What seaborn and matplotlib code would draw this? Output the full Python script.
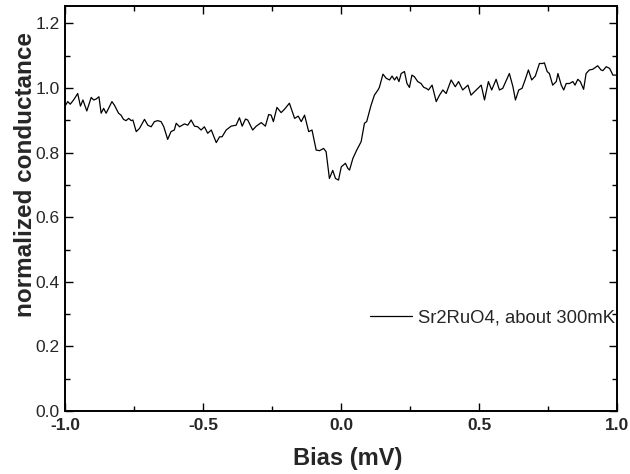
import matplotlib
matplotlib.use("Agg")
import matplotlib.pyplot as plt
from matplotlib.ticker import MultipleLocator
import seaborn as sns
import pandas as pd

# Tunneling conductance of Sr2RuO4 near 300 mK
bias = [
    -1.000, -0.990, -0.981, -0.969, -0.954, -0.944, -0.935, -0.921, -0.905, -0.896,
    -0.887, -0.877, -0.869, -0.860, -0.851, -0.845, -0.830, -0.821, -0.806, -0.797,
    -0.788, -0.779, -0.769, -0.760, -0.754, -0.742, -0.730, -0.712, -0.700, -0.688,
    -0.676, -0.664, -0.652, -0.642, -0.628, -0.616, -0.604, -0.597, -0.585, -0.567,
    -0.555, -0.543, -0.531, -0.519, -0.507, -0.495, -0.483, -0.470, -0.452, -0.440,
    -0.431, -0.416, -0.398, -0.380, -0.368, -0.358, -0.346, -0.338, -0.320, -0.307,
    -0.289, -0.274, -0.262, -0.253, -0.245, -0.232, -0.217, -0.205, -0.187, -0.168,
    -0.155, -0.144, -0.132, -0.117, -0.105, -0.090, -0.078, -0.063, -0.054, -0.042,
    -0.030, -0.020, -0.009, 0.001, 0.016, 0.025, 0.031, 0.043, 0.057, 0.073,
    0.085, 0.093, 0.109, 0.121, 0.134, 0.139, 0.152, 0.164, 0.176, 0.185,
    0.194, 0.202, 0.210, 0.218, 0.230, 0.239, 0.248, 0.257, 0.266, 0.278,
    0.290, 0.300, 0.309, 0.317, 0.330, 0.345, 0.357, 0.369, 0.381, 0.399,
    0.414, 0.426, 0.441, 0.460, 0.471, 0.484, 0.496, 0.508, 0.520, 0.534,
    0.546, 0.562, 0.574, 0.586, 0.610, 0.623, 0.632, 0.644, 0.656, 0.667,
    0.679, 0.691, 0.704, 0.719, 0.731, 0.737, 0.747, 0.755, 0.767, 0.780,
    0.786, 0.798, 0.807, 0.816, 0.828, 0.840, 0.848, 0.858, 0.867, 0.879,
    0.888, 0.900, 0.912, 0.930, 0.942, 0.949, 0.961, 0.973, 0.979, 0.985,
    0.997,
]
conductance = [
    0.944, 0.958, 0.950, 0.963, 0.983, 0.944, 0.963, 0.929, 0.971, 0.963,
    0.966, 0.973, 0.922, 0.937, 0.922, 0.932, 0.958, 0.947, 0.922, 0.916,
    0.903, 0.899, 0.906, 0.899, 0.901, 0.865, 0.875, 0.903, 0.885, 0.880,
    0.896, 0.899, 0.896, 0.880, 0.841, 0.865, 0.870, 0.891, 0.880, 0.889,
    0.885, 0.901, 0.882, 0.880, 0.870, 0.880, 0.860, 0.870, 0.831, 0.849,
    0.849, 0.870, 0.882, 0.885, 0.908, 0.882, 0.904, 0.901, 0.870, 0.882,
    0.893, 0.882, 0.918, 0.916, 0.896, 0.940, 0.924, 0.934, 0.953, 0.906,
    0.913, 0.896, 0.916, 0.865, 0.870, 0.808, 0.806, 0.813, 0.803, 0.720,
    0.745, 0.720, 0.715, 0.756, 0.767, 0.751, 0.746, 0.782, 0.808, 0.834,
    0.891, 0.896, 0.947, 0.978, 0.994, 1.002, 1.043, 1.030, 1.025, 1.037,
    1.025, 1.035, 1.020, 1.045, 1.051, 1.014, 1.002, 1.040, 1.035, 1.020,
    1.014, 1.002, 0.999, 0.994, 1.009, 0.958, 0.978, 0.994, 0.983, 1.025,
    1.004, 1.020, 0.994, 1.009, 0.978, 0.989, 0.999, 1.009, 0.963, 1.020,
    0.994, 1.027, 0.994, 0.999, 1.045, 1.004, 0.963, 0.994, 0.999, 1.025,
    1.056, 1.025, 1.037, 1.076, 1.076, 1.078, 1.051, 1.045, 1.009, 1.020,
    1.045, 1.009, 0.994, 1.014, 1.014, 1.020, 1.009, 1.027, 1.020, 0.996,
    1.045, 1.056, 1.058, 1.069, 1.056, 1.054, 1.066, 1.061, 1.051, 1.040,
    1.040,
]
series_label = "Sr2RuO4, about 300mK"
x_ticks = [-1.0, -0.5, 0.0, 0.5, 1.0]
y_ticks = [0.0, 0.2, 0.4, 0.6, 0.8, 1.0, 1.2]

sns.set_theme(style="ticks")
plt.rcParams["font.family"] = ["Liberation Sans", "DejaVu Sans"]

df = pd.DataFrame({"Bias (mV)": bias, "conductance": conductance})

fig = plt.figure(figsize=(6.3, 4.74), dpi=100)
ax = fig.add_axes([65 / 630, 1 - 411 / 474, 552 / 630, 405 / 474])

sns.lineplot(data=df, x="Bias (mV)", y="conductance", ax=ax,
             color="black", linewidth=0.9, label=series_label,
             estimator=None, sort=False)

ax.set_xlim(-1.0, 1.0)
ax.set_ylim(0.0, 1.254)
ax.set_xticks(x_ticks)
ax.set_xticklabels([f"{v:.1f}" for v in x_ticks], fontweight="bold", fontsize=12.5)
ax.set_yticks(y_ticks)
ax.set_yticklabels([f"{v:.1f}" for v in y_ticks], fontsize=12.5)
ax.xaxis.set_minor_locator(MultipleLocator(0.25))
ax.yaxis.set_minor_locator(MultipleLocator(0.1))

ax.tick_params(which="both", direction="in", top=True, right=True,
               color="black", width=1.0)
ax.tick_params(which="major", length=6)
ax.tick_params(which="minor", length=3.6)
ax.tick_params(axis="x", which="major", pad=5)
ax.tick_params(axis="y", which="major", pad=4)

for sp in ax.spines.values():
    sp.set_linewidth(1.4)
    sp.set_color("black")

ax.set_xlabel("Bias (mV)", fontsize=17, fontweight="bold")
ax.set_ylabel("normalized conductance", fontsize=17.5, fontweight="bold")
ax.xaxis.set_label_coords(0.512, -0.09)
ax.yaxis.set_label_coords(-0.05, 0.583)

leg = ax.legend(loc="center left", bbox_to_anchor=(0.5525, 0.2296),
                frameon=False, fontsize=13.3, handlelength=2.3,
                handletextpad=0.3, borderpad=0, borderaxespad=0)

fig.savefig("out.png", dpi=100, facecolor="white")
